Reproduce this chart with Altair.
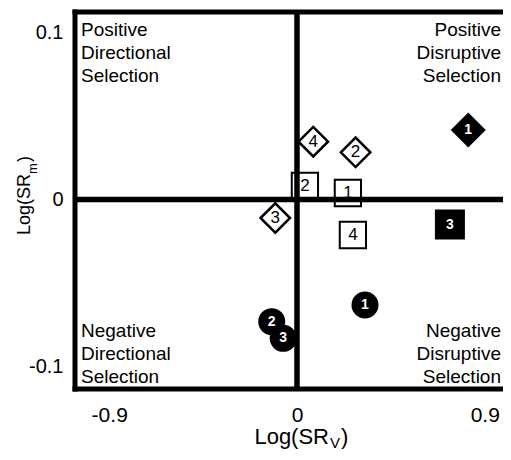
import altair as alt
import pandas as pd

# ---- data ----
XMIN, XMAX = -1.064, 0.9875
YMIN, YMAX = -0.1137, 0.1125

x_ticks = [-0.9, 0, 0.9]
y_ticks = [-0.1, 0, 0.1]

open_diamond_x = [0.078, 0.281, -0.104]
open_diamond_y = [0.0347, 0.0283, -0.0111]
open_diamond_lab = ["4", "2", "3"]

open_square_x = [0.038, 0.244, 0.268]
open_square_y = [0.0081, 0.0039, -0.0213]
open_square_lab = ["2", "1", "4"]

filled_diamond_x = [0.821]
filled_diamond_y = [0.0417]
filled_diamond_lab = ["1"]

filled_square_x = [0.733]
filled_square_y = [-0.0150]
filled_square_lab = ["3"]

filled_circle_x = [0.326, -0.121, -0.066]
filled_circle_y = [-0.0633, -0.0733, -0.0833]
filled_circle_lab = ["1", "2", "3"]

quad_text = {
    "tl": "Positive\nDirectional\nSelection",
    "tr": "Positive\nDisruptive\nSelection",
    "bl": "Negative\nDirectional\nSelection",
    "br": "Negative\nDisruptive\nSelection",
}

W, H = 428, 377
FONT = "Liberation Sans"

minus_expr = ("datum.value < 0 ? '-' + format(-datum.value, '.1f') : "
              "(datum.value == 0 ? '0' : format(datum.value, '.1f'))")

xscale = alt.Scale(domain=[XMIN, XMAX], nice=False, zero=False)
yscale = alt.Scale(domain=[YMIN, YMAX], nice=False, zero=False)
xaxis = alt.Axis(values=x_ticks, title=None, grid=False, domain=False, ticks=False,
                 tickSize=0, labelFontSize=21, labelPadding=15, labelExpr=minus_expr,
                 labelColor="black", labelFont=FONT)
yaxis = alt.Axis(values=y_ticks, title=None, grid=False, domain=False, ticks=False,
                 tickSize=0, labelFontSize=20, labelPadding=12, labelExpr=minus_expr,
                 labelColor="black", labelFont=FONT)


def X(field="x"):
    return alt.X(f"{field}:Q", scale=xscale, axis=xaxis)


def Y(field="y"):
    return alt.Y(f"{field}:Q", scale=yscale, axis=yaxis)


def df(xs, ys, labs):
    return pd.DataFrame({"x": xs, "y": ys, "lab": labs})


od = df(open_diamond_x, open_diamond_y, open_diamond_lab)
osq = df(open_square_x, open_square_y, open_square_lab)
fd = df(filled_diamond_x, filled_diamond_y, filled_diamond_lab)
fsq = df(filled_square_x, filled_square_y, filled_square_lab)
fc = df(filled_circle_x, filled_circle_y, filled_circle_lab)

open_all = pd.concat([od, osq], ignore_index=True)
filled_all = pd.concat([fd, fsq, fc], ignore_index=True)

layers = []
layers.append(alt.Chart(od).mark_point(shape="diamond", filled=True, fill="white", stroke="black",
                                       strokeWidth=2.5, size=870, opacity=1).encode(x=X(), y=Y()))
layers.append(alt.Chart(osq).mark_point(shape="square", filled=True, fill="white", stroke="black",
                                        strokeWidth=2, size=690, opacity=1).encode(x=X(), y=Y()))
layers.append(alt.Chart(fd).mark_point(shape="diamond", filled=True, color="black",
                                       size=1225, opacity=1).encode(x=X(), y=Y()))
layers.append(alt.Chart(fsq).mark_point(shape="square", filled=True, color="black",
                                        size=900, opacity=1).encode(x=X(), y=Y()))
layers.append(alt.Chart(fc).mark_point(shape="circle", filled=True, color="black",
                                       size=729, opacity=1).encode(x=X(), y=Y()))
layers.append(alt.Chart(open_all).mark_text(fontSize=17, color="black", baseline="middle",
                                            align="center", font=FONT)
              .encode(x=X(), y=Y(), text="lab:N"))
layers.append(alt.Chart(filled_all).mark_text(fontSize=14, fontWeight="bold", color="white",
                                              baseline="middle", align="center", font=FONT)
              .encode(x=X(), y=Y(), text="lab:N"))

# zero lines
layers.append(alt.Chart(pd.DataFrame({"x": [0.0]})).mark_rule(color="black", strokeWidth=5.5)
              .encode(x=X()))
layers.append(alt.Chart(pd.DataFrame({"y": [0.0]})).mark_rule(color="black", strokeWidth=5.5)
              .encode(y=Y()))

# frame (left, top, bottom)
layers.append(alt.Chart(pd.DataFrame({"x": [XMIN]})).mark_rule(color="black", strokeWidth=5,
                                                               strokeCap="square").encode(x=X()))
layers.append(alt.Chart(pd.DataFrame({"y": [YMAX, YMIN]})).mark_rule(color="black", strokeWidth=5,
                                                                     strokeCap="square").encode(y=Y()))

# quadrant annotations
def quad(key, xv, yv, align, dx, dy):
    d = pd.DataFrame({"x": [xv], "y": [yv], "t": [quad_text[key]]})
    return alt.Chart(d).mark_text(align=align, baseline="top", dx=dx, dy=dy, lineBreak="\n",
                                  lineHeight=23, fontSize=19, font=FONT, color="black") \
        .encode(x=X(), y=Y(), text="t:N")


layers.append(quad("tl", XMIN, YMAX, "left", 6, 9))
layers.append(quad("tr", XMAX, YMAX, "right", -2, 9))
layers.append(quad("bl", XMIN, YMIN, "left", 6, -67.5))
layers.append(quad("br", XMAX, YMIN, "right", -2, -67.5))

# axis titles with subscripts
one = pd.DataFrame({"a": [0]})


def txt(s, px, py, size, align, angle=0):
    kw = dict(align=align, baseline="alphabetic", fontSize=size, font=FONT, color="black")
    if angle:
        kw["angle"] = angle
    return alt.Chart(one).mark_text(**kw).encode(x=alt.value(px), y=alt.value(py),
                                                 text=alt.value(s))


layers.append(txt("Log(SR", 254, 432, 22, "right"))
layers.append(txt("V", 255, 436, 15, "left"))
layers.append(txt(")", 266, 432, 22, "left"))

layers.append(txt("Log(SR", -45, 223, 18, "left", 270))
layers.append(txt("m", -38, 162, 13, "left", 270))
layers.append(txt(")", -45, 150, 18, "left", 270))

chart = alt.layer(*layers).properties(
    width=W, height=H,
    autosize="none",
    padding={"left": 67, "top": 4, "right": 0, "bottom": 61},
).configure_view(stroke="transparent").configure(font=FONT)

chart.save("out.html", embed_options={"renderer": "svg", "actions": False})
